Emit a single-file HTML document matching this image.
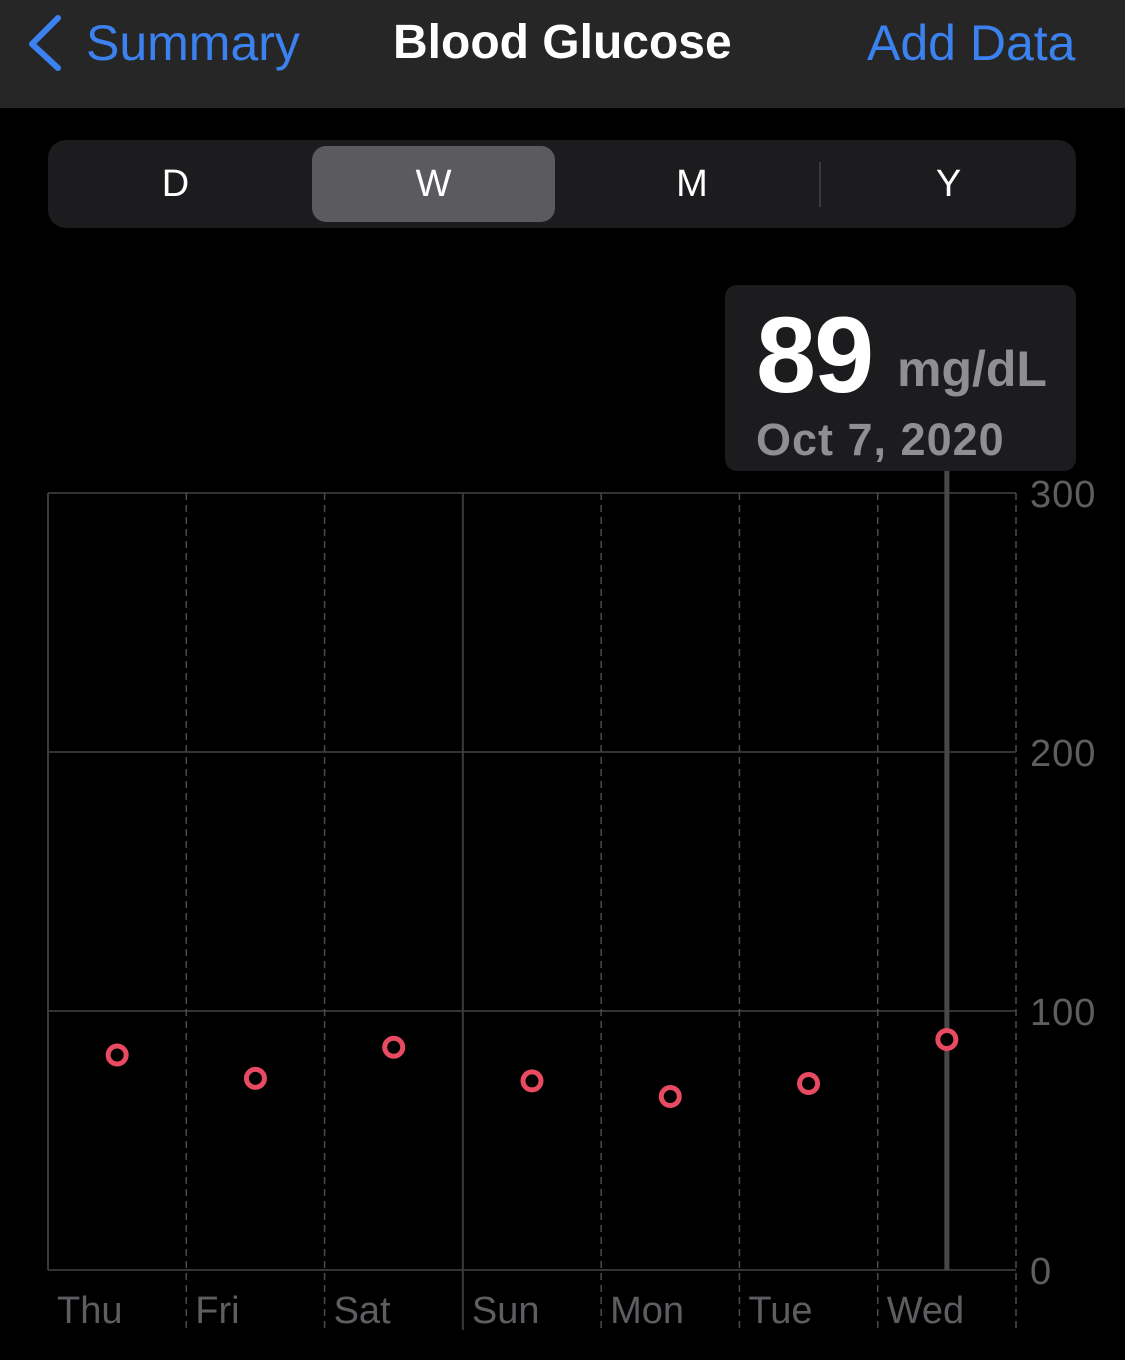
<!DOCTYPE html>
<html><head><meta charset="utf-8"><style>
body{margin:0;width:1125px;height:1360px;background:#000;font-family:"Liberation Sans",sans-serif;overflow:hidden;position:relative}
.nav{position:absolute;left:0;top:0;width:1125px;height:108px;background:#262626}
.abs{position:absolute;white-space:nowrap}
</style></head><body>
<div class="nav"></div>
<svg class="abs" style="left:22px;top:14px" width="44" height="60"><polyline points="36,4 10,30 36,54" fill="none" stroke="#3b82f0" stroke-width="6" stroke-linecap="round" stroke-linejoin="round"/></svg>
<div class="abs" style="left:86px;top:14px;font-size:50px;color:#3b82f0">Summary</div>
<div class="abs" style="left:393px;top:15px;font-size:48px;color:#fff;font-weight:bold">Blood Glucose</div>
<div class="abs" style="left:867px;top:14px;font-size:50px;color:#3b82f0">Add Data</div>
<div class="abs" style="left:48px;top:140px;width:1028px;height:88px;background:#1c1c1e;border-radius:18px"></div>
<div class="abs" style="left:312px;top:146px;width:243px;height:76px;background:#5b5b5f;border-radius:14px"></div>
<div class="abs" style="left:819px;top:162px;width:2px;height:45px;background:#3a3a3c"></div>
<div class="abs" style="left:48px;top:163px;width:255px;text-align:center;font-size:38px;color:#fff">D</div>
<div class="abs" style="left:312px;top:163px;width:243px;text-align:center;font-size:38px;color:#fff">W</div>
<div class="abs" style="left:563px;top:163px;width:258px;text-align:center;font-size:38px;color:#fff">M</div>
<div class="abs" style="left:821px;top:163px;width:255px;text-align:center;font-size:38px;color:#fff">Y</div>
<div class="abs" style="left:725px;top:285px;width:351px;height:186px;background:#1c1c1e;border-radius:12px"></div>
<div class="abs" style="left:756px;top:292px;font-size:108px;color:#fff;font-weight:bold;letter-spacing:-2px">89</div>
<div class="abs" style="left:897px;top:340px;font-size:50px;color:#8e8e93;font-weight:bold">mg/dL</div>
<div class="abs" style="left:756px;top:414px;font-size:45px;color:#8e8e93;font-weight:bold;letter-spacing:1px">Oct 7, 2020</div>
<svg class="abs" style="left:0;top:0" width="1125" height="1360" id="chart"></svg>
<script>
const days=["Thu","Fri","Sat","Sun","Mon","Tue","Wed"];
const glucose=[83,74,86,73,67,72,89];
const yTicks=[0,100,200,300];
const selectedIndex=6;
const svg=document.getElementById('chart');
const L=48,R=1016,T=493,B=1270,yMax=300;
const colW=(R-L)/days.length;
const x=i=>L+colW*(i+0.5);
const y=v=>B-(v/yMax)*(B-T);
const NS="http://www.w3.org/2000/svg";
function mk(t,a){const e=document.createElementNS(NS,t);for(const k in a)e.setAttribute(k,a[k]);svg.appendChild(e);return e;}
yTicks.forEach(v=>{
  const l=mk('line',{x1:L,x2:R,y1:y(v),y2:y(v),stroke:'#333335','stroke-width':2});
  
  
  const t=mk('text',{x:1030,y:y(v)+14,fill:'#5e5e62','font-size':38,'font-family':'Liberation Sans','letter-spacing':1});
  t.textContent=v;
  
  
});
for(let i=0;i<=days.length;i++){
  const xx=L+colW*i;
  const solid=(i===0||i===3);
  const l=mk('line',{x1:xx,x2:xx,y1:T,y2:i===0?B:1330,stroke:solid?'#3a3a3c':'#4a4a4c','stroke-width':solid?2:1.5,'stroke-dasharray':solid?'none':'7,5'});
  
  
}
days.forEach((d,i)=>{
  const t=mk('text',{x:L+colW*i+9,y:1323,fill:'#5e5e62','font-size':38,'font-family':'Liberation Sans'});
  t.textContent=d;
  
  
});
const sel=mk('line',{x1:x(selectedIndex),x2:x(selectedIndex),y1:471,y2:B,stroke:'#48484a','stroke-width':5});


glucose.forEach((v,i)=>{
  const c=mk('circle',{cx:x(i),cy:y(v),r:9,fill:'#000',stroke:'#e84a62','stroke-width':5});
  
  
});
</script>
</body></html>
